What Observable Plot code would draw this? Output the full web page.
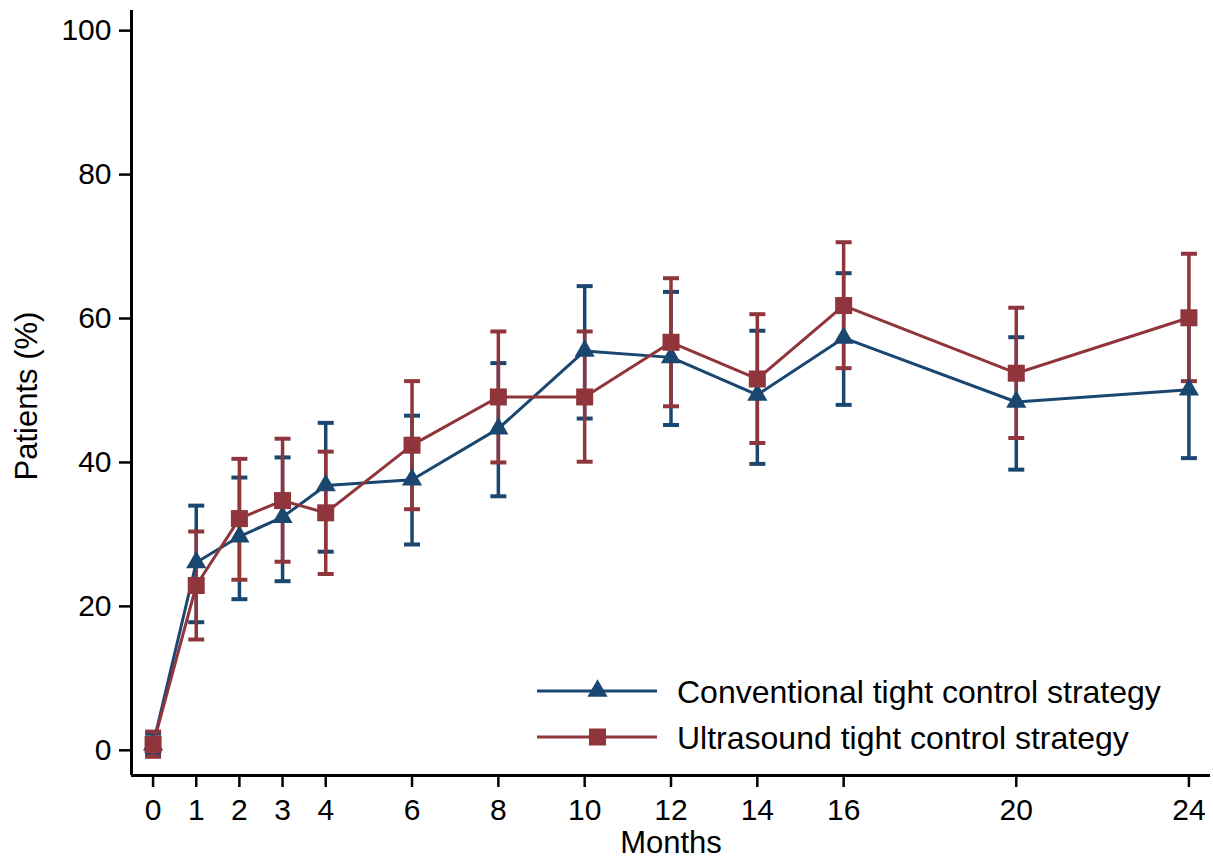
<!DOCTYPE html>
<html>
<head>
<meta charset="utf-8">
<script src="https://cdn.jsdelivr.net/npm/d3@7"></script>
<script src="https://cdn.jsdelivr.net/npm/@observablehq/plot@0.6"></script>
<style>
  html, body { margin: 0; padding: 0; background: #fff; }
  #wrap { position: relative; width: 1213px; height: 861px; font-family: "Liberation Sans", Arial, sans-serif; }
  #legend { position: absolute; left: 0; top: 0; pointer-events: none; }
</style>
</head>
<body>
<div id="wrap"></div>
<script>
// ---- Data ----
const months = [0, 1, 2, 3, 4, 6, 8, 10, 12, 14, 16, 20, 24];
const seriesNames = ["Conventional tight control strategy", "Ultrasound tight control strategy"];
const convMean = [0.8, 26.1, 29.7, 32.4, 36.8, 37.6, 44.7, 55.5, 54.6, 49.4, 57.3, 48.4, 50.1];
const convLow  = [-0.6, 17.8, 21.0, 23.5, 27.6, 28.6, 35.3, 46.1, 45.2, 39.8, 48.0, 39.0, 40.6];
const convHigh = [2.3, 34.0, 37.9, 40.7, 45.5, 46.5, 53.8, 64.5, 63.7, 58.3, 66.3, 57.4, 59.6];
const usMean   = [0.8, 22.9, 32.2, 34.7, 33.0, 42.4, 49.1, 49.1, 56.7, 51.6, 61.8, 52.4, 60.1];
const usLow    = [-0.9, 15.4, 23.7, 26.2, 24.5, 33.5, 40.0, 40.1, 47.8, 42.7, 53.1, 43.4, 51.3];
const usHigh   = [2.6, 30.4, 40.5, 43.3, 41.5, 51.3, 58.2, 58.2, 65.6, 60.6, 70.6, 61.5, 69.0];
const xTicks = [0, 1, 2, 3, 4, 6, 8, 10, 12, 14, 16, 20, 24];
const yTicks = [0, 20, 40, 60, 80, 100];
const xDomain = [-0.5, 24.5];
const yDomain = [-3.5, 102.8];
const colors = ["#1a476f", "#90353b"];

// ---- Build table ----
const conv = months.map((m, i) => ({month: m, mean: convMean[i], lo: convLow[i], hi: convHigh[i]}));
const us = months.map((m, i) => ({month: m, mean: usMean[i], lo: usLow[i], hi: usHigh[i]}));

// horizontal cap symbol
const capSymbol = {
  draw(context, size) {
    const w = Math.sqrt(size / Math.PI);
    context.moveTo(-w, 0);
    context.lineTo(w, 0);
  }
};

const errMarks = (data, color) => [
  Plot.ruleX(data, {x: "month", y1: "lo", y2: "hi", stroke: color, strokeWidth: 3.5}),
  Plot.dot(data, {x: "month", y: "lo", symbol: capSymbol, r: 8, stroke: color, strokeWidth: 4, fill: "none"}),
  Plot.dot(data, {x: "month", y: "hi", symbol: capSymbol, r: 8, stroke: color, strokeWidth: 4, fill: "none"})
];

const chart = Plot.plot({
  width: 1213,
  height: 861,
  marginLeft: 131,
  marginRight: 3,
  marginTop: 10,
  marginBottom: 86,
  style: {fontFamily: "'Liberation Sans', Arial, sans-serif", background: "#fff", color: "#000"},
  x: {domain: xDomain},
  y: {domain: yDomain},
  marks: [
    Plot.axisX({ticks: xTicks, tickFormat: d => String(d), tickSize: 12, tickPadding: 11, fontSize: 30, strokeWidth: 2.5, label: null}),
    Plot.axisY({ticks: yTicks, tickFormat: d => String(d), tickSize: 12, tickPadding: 8, fontSize: 30, strokeWidth: 2.5, label: null}),
    Plot.ruleY([yDomain[0]], {stroke: "#000", strokeWidth: 3}),
    Plot.ruleX([xDomain[0]], {stroke: "#000", strokeWidth: 3}),
    ...errMarks(conv, colors[0]),
    ...errMarks(us, colors[1]),
    Plot.line(conv, {x: "month", y: "mean", stroke: colors[0], strokeWidth: 3}),
    Plot.dot(conv, {x: "month", y: "mean", symbol: "triangle", r: 7.5, fill: colors[0], stroke: "none"}),
    Plot.line(us, {x: "month", y: "mean", stroke: colors[1], strokeWidth: 3}),
    Plot.dot(us, {x: "month", y: "mean", symbol: "square", r: 9.6, fill: colors[1], stroke: "none"}),
    Plot.text(["Months"], {frameAnchor: "bottom", dy: 68, lineAnchor: "middle", textAnchor: "middle", fontSize: 31, fill: "#000"}),
    Plot.text(["Patients (%)"], {frameAnchor: "left", dx: -104, dy: 3, rotate: -90, lineAnchor: "middle", textAnchor: "middle", fontSize: 31, fill: "#000"})
  ]
});

const wrap = document.getElementById("wrap");
wrap.appendChild(chart);

// ---- Legend (overlay) ----
const legend = d3.select(wrap).append("svg")
  .attr("id", "legend")
  .attr("width", 1213).attr("height", 861);
const symbols = [d3.symbolTriangle, d3.symbolSquare];
const symSizes = [7.5 * 7.5 * Math.PI, 9.6 * 9.6 * Math.PI];
seriesNames.forEach((name, i) => {
  const y = 691 + 46 * i;
  const g = legend.append("g");
  g.append("line").attr("x1", 537).attr("x2", 657).attr("y1", y).attr("y2", y)
    .attr("stroke", colors[i]).attr("stroke-width", 3);
  g.append("path").attr("d", d3.symbol(symbols[i], symSizes[i])())
    .attr("transform", `translate(597.5,${y})`).attr("fill", colors[i]);
  g.append("text").attr("x", 677).attr("y", y + 12)
    .attr("font-family", "'Liberation Sans', Arial, sans-serif")
    .attr("font-size", 32).attr("fill", "#000").text(name);
});
</script>
</body>
</html>
